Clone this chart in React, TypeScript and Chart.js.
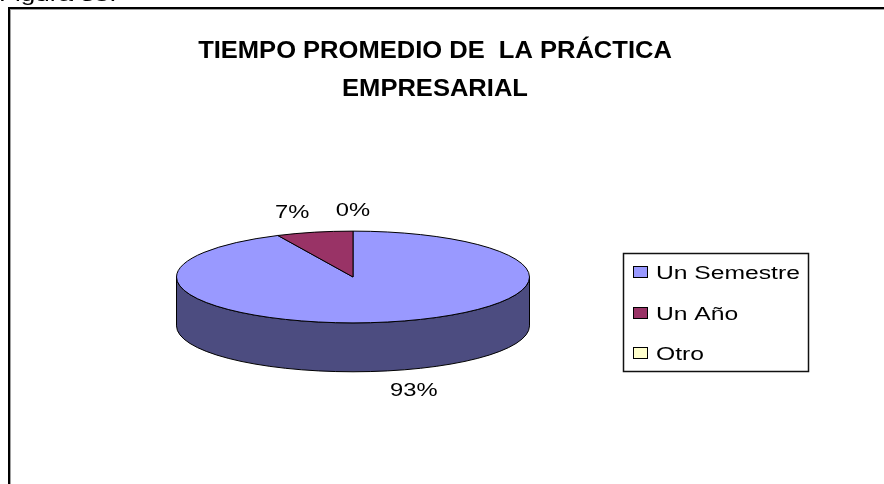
import React, { useEffect, useRef } from "react";
import { Chart, registerables } from "chart.js";

Chart.register(...registerables);

const categories = ["Un Semestre", "Un Año", "Otro"];
const values = [93, 7, 0];
const topColors = ["#9999FF", "#993366", "#FFFFCC"];
const sideColors = ["#4C4C80", "#4C1933", "#808066"];
const titleLines = ["TIEMPO PROMEDIO DE  LA PRÁCTICA", "EMPRESARIAL"];
const caption = "Figura 35.";

const FONT = '"Liberation Sans", Arial, sans-serif';
const TILT = 0.26; // vertical squash of the pie
const DEPTH = 0.277; // side height relative to radius

function stretchText(
  ctx: CanvasRenderingContext2D,
  text: string,
  x: number,
  y: number,
  font: string,
  sx: number,
  align: CanvasTextAlign
) {
  ctx.save();
  ctx.font = font;
  ctx.translate(x, y);
  ctx.scale(sx, 1);
  ctx.textAlign = align;
  ctx.textBaseline = "alphabetic";
  ctx.fillStyle = "#000";
  ctx.fillText(text, 0, 0);
  ctx.restore();
}

const pie3d = {
  id: "pie3d",
  beforeDraw(chart: any) {
    const ctx: CanvasRenderingContext2D = chart.ctx;
    ctx.save();
    ctx.fillStyle = "#fff";
    ctx.fillRect(0, 0, chart.width, chart.height);
    // frame
    ctx.fillStyle = "#000";
    ctx.fillRect(8, 7, chart.width - 8, 2);
    ctx.fillRect(8, 7, 2, chart.height - 7);
    ctx.fillStyle = "#a0a0a0";
    ctx.fillRect(10, 9, chart.width - 10, 1);
    ctx.fillRect(10, 9, 1, chart.height - 9);
    ctx.restore();
    stretchText(ctx, caption, -1, 1, `18px ${FONT}`, 1.45, "left");
  },
  beforeDatasetsDraw(chart: any) {
    const ctx: CanvasRenderingContext2D = chart.ctx;
    const meta = chart.getDatasetMeta(0);
    const arcs = meta.data.map((a: any) =>
      a.getProps(["x", "y", "startAngle", "endAngle", "outerRadius"], true)
    );
    if (!arcs.length) return false;
    const cx = arcs[0].x;
    const cy = arcs[0].y;
    const rx = arcs[0].outerRadius;
    const ry = rx * TILT;
    const depth = rx * DEPTH;
    ctx.save();
    ctx.lineWidth = 1;
    ctx.strokeStyle = "#000";
    ctx.lineJoin = "round";
    // sides (front half only)
    arcs.forEach((a: any, i: number) => {
      const s = Math.max(a.startAngle, 0);
      const e = Math.min(a.endAngle, Math.PI);
      if (e - s <= 1e-6) return;
      ctx.beginPath();
      ctx.moveTo(cx + rx * Math.cos(s), cy + ry * Math.sin(s));
      ctx.ellipse(cx, cy, rx, ry, 0, s, e, false);
      ctx.lineTo(cx + rx * Math.cos(e), cy + ry * Math.sin(e) + depth);
      ctx.ellipse(cx, cy + depth, rx, ry, 0, e, s, true);
      ctx.closePath();
      ctx.fillStyle = sideColors[i];
      ctx.fill();
      ctx.stroke();
    });
    // top faces
    arcs.forEach((a: any, i: number) => {
      if (a.endAngle - a.startAngle <= 1e-6) return;
      ctx.beginPath();
      ctx.moveTo(cx, cy);
      ctx.ellipse(cx, cy, rx, ry, 0, a.startAngle, a.endAngle, false);
      ctx.closePath();
      ctx.fillStyle = topColors[i];
      ctx.fill();
      ctx.stroke();
    });
    // percent labels
    const total = values.reduce((p, v) => p + v, 0);
    const lrx = rx * 1.58;
    const lry = ry + 22;
    arcs.forEach((a: any, i: number) => {
      const mid = (a.startAngle + a.endAngle) / 2;
      const sn = Math.sin(mid);
      const x = cx + lrx * Math.cos(mid);
      let y = cy + lry * sn;
      if (sn > 0) y += depth - 3;
      const pct = Math.round((values[i] / total) * 100) + "%";
      stretchText(ctx, pct, x, y + 7, `19px ${FONT}`, 1.25, "center");
    });
    ctx.restore();
    return false;
  },
  afterDraw(chart: any) {
    const ctx: CanvasRenderingContext2D = chart.ctx;
    // title
    stretchText(ctx, titleLines[0], 435, 58, `bold 23px ${FONT}`, 1.11, "center");
    stretchText(ctx, titleLines[1], 435, 96, `bold 23px ${FONT}`, 1.11, "center");
    // legend
    ctx.save();
    ctx.lineWidth = 1.5;
    ctx.strokeStyle = "#111";
    ctx.strokeRect(623.5, 253.5, 185, 118);
    const rowY = [272, 313, 353];
    categories.forEach((c, i) => {
      const yc = rowY[i];
      ctx.fillStyle = topColors[i];
      ctx.fillRect(633.5, yc - 5.5, 14, 11);
      ctx.lineWidth = 1;
      ctx.strokeStyle = "#000";
      ctx.strokeRect(633.5, yc - 5.5, 14, 11);
      stretchText(ctx, c, 656, yc + 6.5, `18px ${FONT}`, 1.37, "left");
    });
    ctx.restore();
  },
};

export default function App() {
  const ref = useRef<HTMLCanvasElement | null>(null);
  useEffect(() => {
    if (!ref.current) return;
    const chart = new Chart(ref.current, {
      type: "pie",
      data: {
        labels: categories,
        datasets: [
          {
            data: values,
            backgroundColor: topColors,
            borderColor: "#000",
            borderWidth: 1,
          },
        ],
      },
      options: {
        responsive: false,
        animation: false,
        devicePixelRatio: 1,
        events: [],
        layout: { padding: { left: 176, top: 100, right: 354, bottom: 30 } },
        plugins: {
          legend: { display: false },
          title: { display: false },
          tooltip: { enabled: false },
        },
      },
      plugins: [pie3d],
    } as any);
    return () => chart.destroy();
  }, []);
  return (
    <canvas
      ref={ref}
      width={884}
      height={484}
      style={{ position: "fixed", left: 0, top: 0, width: 884, height: 484 }}
    />
  );
}
